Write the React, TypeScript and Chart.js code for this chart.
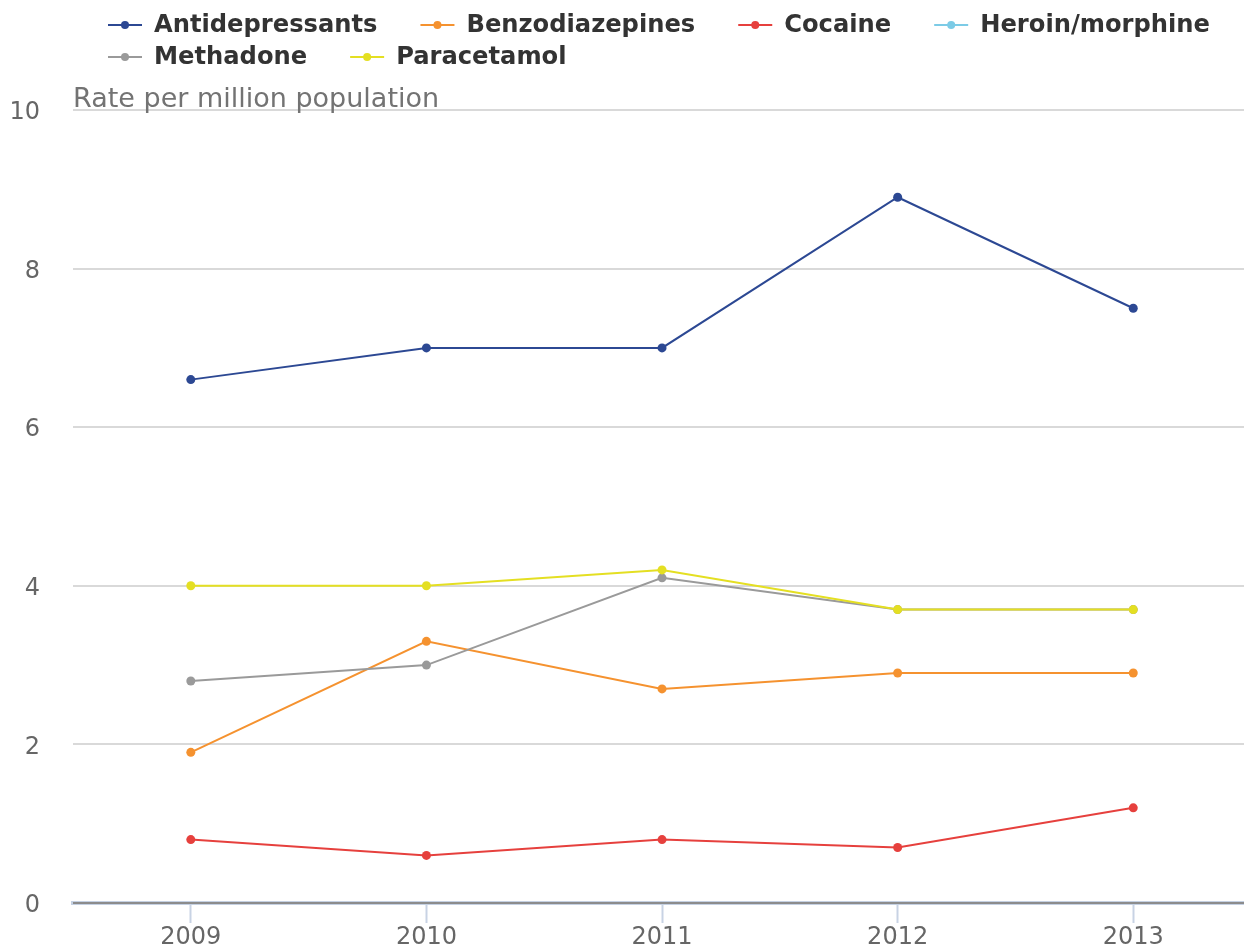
import React, { useEffect, useRef } from "react";
import { Chart, registerables } from "chart.js";

Chart.register(...registerables);

const years = [2009, 2010, 2011, 2012, 2013];
const seriesNames = ["Antidepressants", "Benzodiazepines", "Cocaine", "Heroin/morphine", "Methadone", "Paracetamol"];
const seriesColors = ["#2c4893", "#f5922f", "#e6403d", "#7ccbe6", "#9a9a9a", "#e4df22"];
const antidepressants = [6.6, 7.0, 7.0, 8.9, 7.5];
const benzodiazepines = [1.9, 3.3, 2.7, 2.9, 2.9];
const cocaine = [0.8, 0.6, 0.8, 0.7, 1.2];
const heroinMorphine: (number | null)[] = [null, null, null, null, null];
const methadone = [2.8, 3.0, 4.1, 3.7, 3.7];
const paracetamol = [4.0, 4.0, 4.2, 3.7, 3.7];
const yTicks = [0, 2, 4, 6, 8, 10];
const yAxisTitle = "Rate per million population";

const seriesValues = [antidepressants, benzodiazepines, cocaine, heroinMorphine, methadone, paracetamol];

const FONT = "'DejaVu Sans', sans-serif";

const legendPlugin = {
  id: "customLegend",
  afterDraw(chart: any) {
    const ctx = chart.ctx;
    ctx.save();
    ctx.font = `bold 24.2px ${FONT}`;
    ctx.textBaseline = "middle";
    ctx.textAlign = "left";
    const startX = 108;
    const maxRight = 1236;
    const rowH = 32;
    let x = startX;
    let y = 25;
    chart.data.datasets.forEach((ds: any) => {
      const tw = ctx.measureText(ds.label).width;
      const itemW = 34 + 12 + tw;
      if (x + itemW > maxRight && x > startX) {
        x = startX;
        y += rowH;
      }
      ctx.strokeStyle = ds.borderColor;
      ctx.lineWidth = 2;
      ctx.beginPath();
      ctx.moveTo(x, y);
      ctx.lineTo(x + 34, y);
      ctx.stroke();
      ctx.fillStyle = ds.borderColor;
      ctx.beginPath();
      ctx.arc(x + 17, y, 4, 0, Math.PI * 2);
      ctx.fill();
      ctx.fillStyle = "#333333";
      ctx.fillText(ds.label, x + 46, y + 1);
      x += itemW + 43;
    });
    ctx.font = `27px ${FONT}`;
    ctx.fillStyle = "#737373";
    ctx.textBaseline = "alphabetic";
    ctx.fillText(yAxisTitle, chart.chartArea.left, 107);
    ctx.restore();
  },
};

export default function App() {
  const ref = useRef<HTMLCanvasElement>(null);
  useEffect(() => {
    document.body.style.margin = "0";
    const canvas = ref.current!;
    const chart = new Chart(canvas, {
      type: "line",
      data: {
        datasets: seriesNames.map((name, i) => ({
          label: name,
          data: years.map((yr, j) => ({ x: yr, y: seriesValues[i][j] })),
          borderColor: seriesColors[i],
          backgroundColor: seriesColors[i],
          borderWidth: 2,
          pointRadius: 4.5,
          pointHoverRadius: 4.5,
          pointBorderWidth: 0,
          tension: 0,
          spanGaps: false,
          order: seriesNames.length - i,
        })),
      },
      plugins: [legendPlugin],
      options: {
        responsive: false,
        animation: false,
        layout: { autoPadding: false, padding: { top: 110, right: 0, left: 0, bottom: 0 } },
        plugins: {
          legend: { display: false },
          title: { display: false },
          tooltip: { enabled: false },
        },
        scales: {
          x: {
            type: "linear",
            min: 2008.5,
            max: 2013.47,
            afterFit: (s: any) => {
              s.height = 44;
            },
            afterBuildTicks: (s: any) => {
              s.ticks = years.map((v) => ({ value: v }));
            },
            ticks: {
              callback: (v: any) => String(v),
              color: "#666666",
              font: { family: FONT, size: 24 },
              padding: 0,
              maxRotation: 0,
            },
            grid: {
              drawOnChartArea: false,
              drawTicks: true,
              tickLength: 20,
              tickColor: "#c8d3e4",
              tickWidth: 2,
            },
            border: { display: true, color: "#c5d1e3", width: 4, z: -1 },
          },
          y: {
            min: 0,
            max: 10,
            afterFit: (s: any) => {
              s.width = 73;
            },
            afterBuildTicks: (s: any) => {
              s.ticks = yTicks.map((v) => ({ value: v }));
            },
            ticks: {
              color: "#666666",
              font: { family: FONT, size: 24 },
              padding: 0,
              labelOffset: 3,
            },
            grid: {
              drawTicks: true,
              tickLength: 33,
              tickColor: "rgba(0,0,0,0)",
              color: (c: any) => (c.tick && c.tick.value === 0 ? "#8c8c8c" : "#d9d9d9"),
              lineWidth: 2,
            },
            border: { display: false },
          },
        },
      },
    });
    return () => chart.destroy();
  }, []);
  return (
    <div style={{ width: 1244, height: 947 }}>
      <canvas ref={ref} width={1244} height={947} style={{ display: "block" }} />
    </div>
  );
}
